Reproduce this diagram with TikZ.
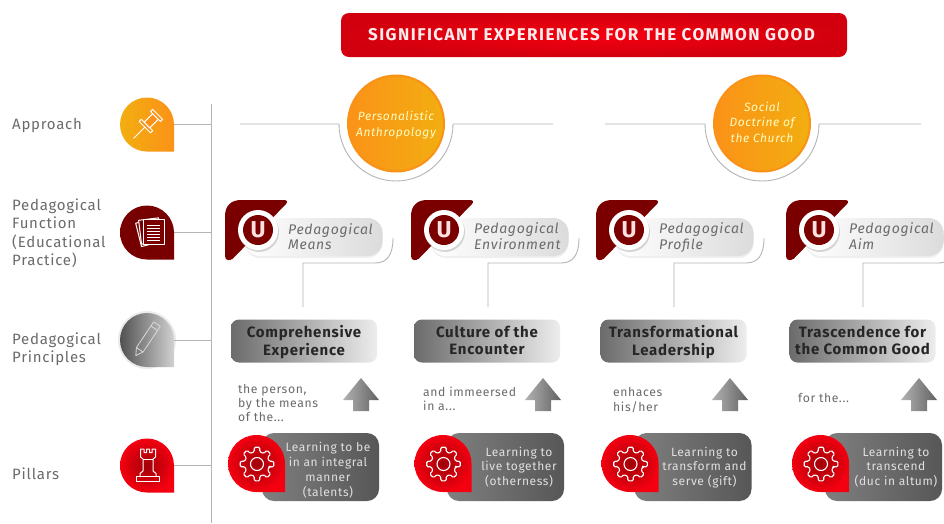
\documentclass[tikz,border=0pt]{standalone}
\usepackage{fontspec}
\setmainfont{Fira Sans}
\newfontfamily\ls{Fira Sans}[LetterSpace=5]
\newfontfamily\lsb{Fira Sans}[LetterSpace=5]
\newfontfamily\lst{Fira Sans}[LetterSpace=8.5]
\usetikzlibrary{shadows,calc}
\definecolor{txt}{HTML}{6B6B6B}
\definecolor{ln}{HTML}{B4B4B4}
\definecolor{maroon}{HTML}{7A0000}
\definecolor{orL}{HTML}{FB9218}
\definecolor{orR}{HTML}{F2AE10}
\definecolor{redHi}{HTML}{F50010}
\definecolor{redLo}{HTML}{D2000E}
\definecolor{redDk}{HTML}{A00008}
\newcommand\tallstrut{\rule[-.3\baselineskip]{0pt}{\dimexpr\baselineskip+4pt\relax}}
\tikzset{
  x=1pt,y=-1pt,
  conn/.style={draw=ln,line width=0.9pt},
  sidelabel/.style={anchor=west,inner sep=0,align=left,text=txt,font=\ls\fontsize{15}{17.3}\selectfont},
  pillbox/.style={rounded corners=15pt,minimum width=137.5pt,minimum height=38pt,inner sep=0,left color=white,right color=black!14},
  pilltext/.style={anchor=west,inner sep=0,align=left,text=black!58,font=\ls\itshape\fontsize{14}{14.5}\selectfont},
  princ/.style={rounded corners=8pt,minimum width=146pt,minimum height=43pt,inner sep=0,left color=black!58,right color=black!7,align=center,text=black!85,font=\lsb\bfseries\fontsize{15}{17}\selectfont},
  hint/.style={anchor=west,inner sep=0,align=left,text=txt,font=\ls\fontsize{12.2}{14}\selectfont},
  pillar/.style={rounded corners=12pt,minimum width=117pt,minimum height=68pt,inner sep=0,left color=black!50,right color=black!66},
  pillartext/.style={inner sep=0,align=center,text=white!88!black,font=\ls\fontsize{12}{14.7}\selectfont},
  circ/.style={circle,minimum size=96pt,inner sep=0,left color=orL,right color=orR,draw=orL,line width=2pt,align=center,text=yellow!25!white,font=\ls\itshape\fontsize{12}{15.5}\selectfont},
  anchorpt/.style={circle,inner sep=0,minimum size=54pt},
  icon/.style={draw=white,line width=1pt,line join=round},
}
\newcommand\dropshape[4]{% cx,cy,r,style
  \path[#4] (#1+#3,#2+#3) -- (#1,#2+#3) arc[start angle=-90,end angle=-360,radius=#3pt] -- cycle;}
\newcommand\means[5]{% id, dx, line1, line2, (unused)
  \begin{scope}[xshift=#2pt]
    \node[pillbox,drop shadow={opacity=.12,shadow xshift=0pt,shadow yshift=-2pt}] (pill#1) at (313.75,237) {};
    \path[fill=maroon] (241,200) -- (284,200) .. controls (287,200) and (288,202) .. (286,204) -- (233,258.5) .. controls (230,261) and (225,261) .. (225,256) -- (225,216) .. controls (225,206) and (231,200) .. (241,200) -- cycle;
    \node[circle,fill=white,minimum size=40pt,inner sep=0,drop shadow={opacity=.3,shadow xshift=1pt,shadow yshift=-2pt}] (ring#1) at (258,230) {};
    \node[circle,fill=maroon,minimum size=30pt,inner sep=0,text=red!12!white,font=\bfseries\fontsize{23}{23}\selectfont] (logo#1) at (258,230) {U};
    \node[pilltext] (ptext#1) at (288,238.5) {\strut #3\\\strut #4};
  \end{scope}}
\newcommand\princbox[6]{% id, cx, line1, line2, arrow cx, (unused)
  \node[princ] (box#1) at (#2,341) {\tallstrut #3\\\strut #4};
  \path[left color=black!30,right color=black!62] (#5,378) -- (#5+18,400) -- (#5+8,400) -- (#5+8,411) -- (#5-8,411) -- (#5-8,400) -- (#5-18,400) -- cycle;}
\newcommand\pillarblock[6]{% id, box cx, drop cx, text cx, t
  \node[pillar] (pbox#1) at (#2,467) {};
  \dropshape{#3}{463.5}{28.5}{inner color=redDk,outer color=redHi}
  \node[circle,inner sep=0,minimum size=57pt] (pdrop#1) at (#3,463.5) {};
  \begin{scope}[shift={(#3+0.5,464)}]
    \draw[draw=white,line width=1.1pt,rounded corners=1.2pt] (-14:12.5pt)
      \foreach \a in {0,45,...,315}{ -- (\a-13:12.5pt) -- (\a-9:17pt) -- (\a+9:17pt) -- (\a+13:12.5pt) } -- cycle;
    \draw[draw=white,line width=1.1pt] (0,0) circle[radius=6.5pt];
  \end{scope}
  \node[pillartext] (ptx#1) at (#4,#5) {#6};}
\begin{document}
\begin{tikzpicture}
\path[use as bounding box,fill=white] (0,0) rectangle (944,523);
% title
\node[rounded corners=8pt,minimum width=506pt,minimum height=44pt,inner sep=0,inner color=redHi,outer color=redLo,text=white!92!red,font=\lst\bfseries\fontsize{17}{17}\selectfont] (title) at (594,35) {SIGNIFICANT EXPERIENCES FOR THE COMMON GOOD\kern5pt};
% spine
\coordinate (spinetop) at (211,104);
\coordinate (spinebot) at (211,523);
\draw[conn] (spinetop) -- (spinebot);
% left labels
\node[sidelabel] (lA) at (12,125) {Approach};
\node[sidelabel] (lB) at (12,235) {\strut Pedagogical\\\strut Function\\\strut (Educational\\\strut Practice)};
\node[sidelabel] (lC) at (12,350) {\strut Pedagogical\\\strut Principles};
\node[sidelabel] (lD) at (12,473.5) {Pillars};
% icons
\dropshape{147}{124.5}{27}{left color=orR,right color=orL}
\node[anchorpt] (iA) at (147,124.5) {};
\dropshape{147}{232.5}{27}{inner color=maroon!90!black,outer color=maroon}
\node[anchorpt] (iB) at (147,232.5) {};
\path[fill=black!8] (147,340) circle[radius=29pt];
\dropshape{147}{340}{27}{left color=black!68,right color=black!18}
\node[anchorpt] (iC) at (147,340) {};
\dropshape{147}{465.5}{27}{inner color=redDk,outer color=redHi}
\node[anchorpt] (iD) at (147,465.5) {};
\draw[conn] (iA.east) -- (iA.east -| spinetop);
\draw[conn] (iB.east) -- (iB.east -| spinetop);
\draw[conn] (iC.east) -- (iC.east -| spinetop);
\draw[conn] (iD.east) -- (iD.east -| spinetop);
% pin
\begin{scope}[shift={(147,125)},rotate=45]
  \draw[icon] (-19,0) -- (-3,0);
  \draw[icon,fill=orL] (-3,-8) rectangle (0,8);
  \draw[icon,fill=orL] (0,-4) rectangle (12,4);
  \draw[icon,fill=orL] (12,-7) rectangle (15,7);
\end{scope}
% documents
\begin{scope}[shift={(150,231)}]
  \draw[icon,fill=maroon,rotate=14] (-12,-11) rectangle (8,13);
  \draw[icon,fill=maroon,rotate=7] (-10,-12) rectangle (10,12);
  \draw[icon,fill=maroon] (-7,-12) rectangle (14,13);
  \foreach \yy in {-6,-3,0,3,6,9}{\draw[draw=white,line width=.9pt] (-3,\yy) -- (10,\yy);}
\end{scope}
% pencil
\begin{scope}[shift={(147,339)},rotate=56]
  \draw[draw=white!85!black,line width=.8pt,line join=round] (-20,0) -- (-13,-4) -- (18,-4) -- (18,4) -- (-13,4) -- cycle;
  \draw[draw=white!85!black,line width=.8pt] (-13,-4) -- (-13,4) (13,-4) -- (13,4);
\end{scope}
% rook
\begin{scope}[shift={(148,465)}]
  \draw[icon] (-11.5,11) rectangle (11.5,16);
  \draw[icon] (-8,11) -- (-8,8.5) -- (-5,6) -- (-5,-6) -- (-7.5,-8) -- (-7.5,-16) -- (-4,-16) -- (-4,-12.5) -- (-1.5,-12.5) -- (-1.5,-16) -- (1.5,-16) -- (1.5,-12.5) -- (4,-12.5) -- (4,-16) -- (7.5,-16) -- (7.5,-8) -- (5,-6) -- (5,6) -- (8,8.5) -- (8,11);
  \draw[icon] (-5,-6) -- (5,-6);
\end{scope}
% approach row
\node[circ] (cP) at (396,123.5) {\tallstrut Personalistic\\\strut Anthropology};
\node[circ] (cS) at (762,123.5) {\strut Social\\\strut Doctrine of\\\strut the Church};
\coordinate (aL1) at (240,124); \coordinate (aR1) at (553,124);
\coordinate (aL2) at (605,124); \coordinate (aR2) at (921,124);
\draw[conn] (aL1) -- ($(cP.center)+(-57,0.5)$) arc[start angle=180,end angle=360,radius=57pt] -- (aR1);
\draw[conn] (aL2) -- ($(cS.center)+(-57,0.5)$) arc[start angle=180,end angle=360,radius=57pt] -- (aR2);
% means row
\means{1}{0}{Pedagogical}{Means}{}
\means{2}{186}{Pedagogical}{Environment}{}
\means{3}{371}{Pedagogical}{Profile}{}
\means{4}{561}{Pedagogical}{Aim}{}
% connectors pill to principle
\princbox{1}{304}{Comprehensive}{Experience}{361}{}
\princbox{2}{487}{Culture of the}{Encounter}{543}{}
\princbox{3}{673.5}{Transformational}{Leadership}{730}{}
\princbox{4}{862.5}{Trascendence for}{the Common Good}{919}{}
\coordinate (f1) at (393,238); \coordinate (f2) at (579,238); \coordinate (f3) at (764,238); \coordinate (f4) at (944,262);
\foreach \i/\xx in {1/303,2/488,3/674}{
  \coordinate (t\i) at (\xx,307);
  \draw[conn] (f\i) .. controls ($(f\i)+(0,17)$) and ($(f\i)+(-6,25)$) .. ($(f\i)+(-18,25)$) -- (\xx,263) -- (t\i);
}
\coordinate (t4) at (863,307);
\draw[conn] (f4) .. controls (942,263) and (940,263) .. (936,263) -- (863,263) -- (t4);
% hints
\node[hint] (h1) at (238,405) {\strut the person,\\\strut by the means\\\strut of the...};
\node[hint] (h2) at (423,401) {\strut and immeersed\\\strut in a...};
\node[hint] (h3) at (613,401) {\strut enhaces\\\strut his/her};
\node[hint] (h4) at (798,398) {for the...};
% pillars
\pillarblock{1}{320.5}{256.5}{328}{471}{\strut Learning to be\\\strut in an integral\\\strut manner\\\strut (talents)}
\pillarblock{2}{505.5}{443}{519}{468}{\strut Learning to\\\strut live together\\\strut (otherness)}
\pillarblock{3}{693}{630}{704.5}{468}{\strut Learning to\\\strut transform and\\\strut serve (gift)}
\pillarblock{4}{883.5}{820.5}{896}{468}{\strut Learning to\\\strut transcend\\\strut (duc in altum)}
\end{tikzpicture}
\end{document}
